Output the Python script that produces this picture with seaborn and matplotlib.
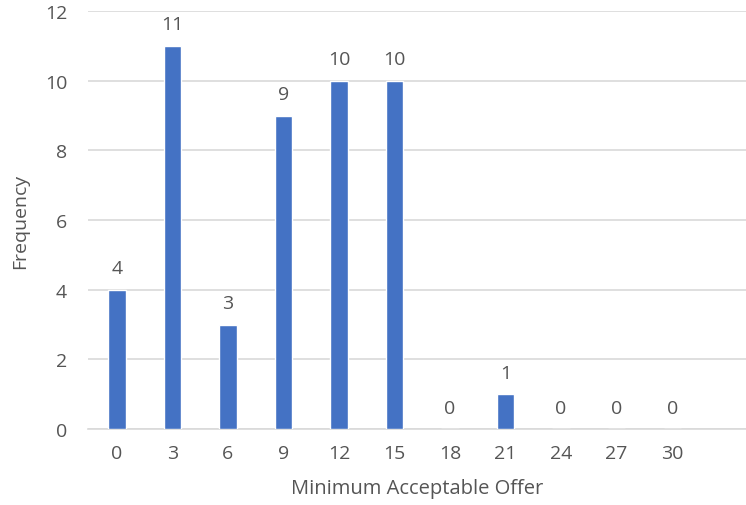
import matplotlib
matplotlib.use("Agg")
import matplotlib.pyplot as plt
import seaborn as sns
import pandas as pd

offers = ["0", "3", "6", "9", "12", "15", "18", "21", "24", "27", "30"]
frequency = [4, 11, 3, 9, 10, 10, 0, 1, 0, 0, 0]
y_ticks = [0, 2, 4, 6, 8, 10, 12]

sns.set_theme(style="white")
plt.rcParams["font.family"] = ["Open Sans", "DejaVu Sans"]

df = pd.DataFrame({"offer": offers, "freq": frequency})

fig = plt.figure(figsize=(7.46, 5.06), dpi=100)
ax = fig.add_axes([0.118, 0.150, 0.882, 0.826])

text_color = "#555555"
fs = 14
sns.barplot(data=df, x="offer", y="freq", order=offers, color="#4472C4",
            width=0.31, saturation=1, ax=ax, zorder=3)

for c in ax.containers:
    ax.bar_label(c, labels=[str(v) for v in frequency], padding=9,
                 fontsize=fs, color=text_color)

ax.set_ylim(0, 12)
ax.set_xlim(-0.52, 11.33)
ax.set_yticks(y_ticks)
ax.yaxis.grid(True, color="#d9d9d9", linewidth=1.2, zorder=0)
ax.xaxis.grid(False)
for s in ["top", "right", "left"]:
    ax.spines[s].set_visible(False)
ax.spines["bottom"].set_color("#d9d9d9")
ax.spines["bottom"].set_linewidth(1.2)
ax.tick_params(axis="both", length=0, labelsize=fs, colors=text_color)
ax.tick_params(axis="y", pad=15)
ax.tick_params(axis="x", pad=11)
ax.set_xlabel("Minimum Acceptable Offer", fontsize=14.5, color=text_color, labelpad=11)
ax.set_ylabel("Frequency", fontsize=14, color=text_color, labelpad=11)

fig.savefig("out.png", dpi=100)
